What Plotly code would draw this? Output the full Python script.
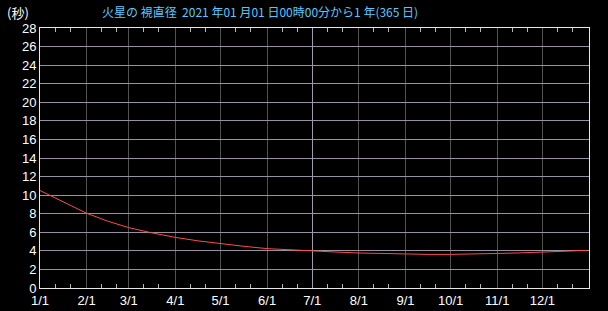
import plotly.graph_objects as go

# Data (Mars apparent diameter, arcsec)
dates = ["2021-01-01", "2021-01-16", "2021-02-01", "2021-02-15", "2021-03-01",
         "2021-03-16", "2021-04-01", "2021-04-16", "2021-05-01", "2021-05-16",
         "2021-06-01", "2021-06-16", "2021-07-01", "2021-07-16", "2021-08-01",
         "2021-08-16", "2021-09-01", "2021-09-16", "2021-10-01", "2021-10-16",
         "2021-11-01", "2021-11-16", "2021-12-01", "2021-12-16", "2021-12-31"]
diameter = [10.5, 9.3, 8.05, 7.2, 6.5,
            5.95, 5.45, 5.08, 4.77, 4.5,
            4.24, 4.1, 4.0, 3.88, 3.77,
            3.7, 3.64, 3.62, 3.62, 3.63,
            3.72, 3.78, 3.85, 3.93, 4.05]

month_ticks = ["2021-%02d-01" % m for m in range(1, 13)]
month_labels = ["%d/1" % m for m in range(1, 13)]
minor_ticks = ["2021-%02d-%02d" % (m, d) for m in range(1, 13) for d in (11, 21)]
y_ticks = list(range(0, 29, 2))

title_text = "火星の 視直径  2021 年01 月01 日00時00分から1 年(365 日)"
unit_text = "(秒)"

font_main = "Liberation Sans, Arial, Noto Sans CJK JP, sans-serif"

fig = go.Figure()
fig.add_trace(go.Scatter(x=dates, y=diameter, mode="lines",
                         line=dict(color="#ff4a4a", width=1),
                         hoverinfo="skip", showlegend=False))
# invisible traces to activate overlay axes (minor ticks, 7/1 highlight grid)
fig.add_trace(go.Scatter(x=[dates[0]], y=[0], xaxis="x2", mode="markers",
                         marker=dict(opacity=0), showlegend=False, hoverinfo="skip"))
fig.add_trace(go.Scatter(x=[dates[0]], y=[0], xaxis="x3", mode="markers",
                         marker=dict(opacity=0), showlegend=False, hoverinfo="skip"))

xrange = ["2021-01-01", "2022-01-01"]

fig.update_layout(
    width=608, height=311,
    margin=dict(l=40, r=19, t=28, b=23, autoexpand=False),
    paper_bgcolor="#000000", plot_bgcolor="#000000",
    font=dict(family=font_main, size=13, color="#ffffff"),
    title=dict(text=title_text, x=102/608, xanchor="left", y=1-13/311, yanchor="middle",
               font=dict(family="Noto Sans CJK JP, sans-serif", size=12, color="#5ac8ff")),
    xaxis=dict(type="date", range=xrange, tickmode="array", tickvals=month_ticks,
               ticktext=month_labels, showgrid=True, gridcolor="#525252", gridwidth=1,
               ticks="", showline=True, linecolor="#e8e8e8", linewidth=1, mirror=True,
               zeroline=False, automargin=False, tickfont=dict(size=13, color="#ffffff"),
               layer="below traces"),
    xaxis2=dict(type="date", range=xrange, overlaying="x", matches="x", tickmode="array",
                tickvals=minor_ticks, ticks="inside", ticklen=4, tickcolor="#b8b8b8",
                showticklabels=False, showgrid=False, showline=False, mirror="ticks",
                anchor="y", side="bottom", automargin=False),
    xaxis3=dict(type="date", range=xrange, overlaying="x", matches="x", tickmode="array",
                tickvals=["2021-07-01"], ticks="", showticklabels=False, showgrid=True,
                gridcolor="#a49aac", gridwidth=1, showline=False, anchor="y", automargin=False),
    yaxis=dict(range=[0, 28], tickmode="array", tickvals=y_ticks, showgrid=True,
               gridcolor="#9a90a2", gridwidth=1, ticks="", showline=True, linecolor="#e8e8e8",
               linewidth=1, mirror=True, zeroline=False, automargin=False,
               tickfont=dict(size=13, color="#ffffff")),
    annotations=[dict(text=unit_text, xref="paper", yref="paper", x=(5-40)/549,
                      y=(288-12)/260, xanchor="left", yanchor="middle", showarrow=False,
                      font=dict(family="Noto Sans CJK JP, sans-serif", size=13, color="#ffffff"))],
)

fig.write_html("out.html")
